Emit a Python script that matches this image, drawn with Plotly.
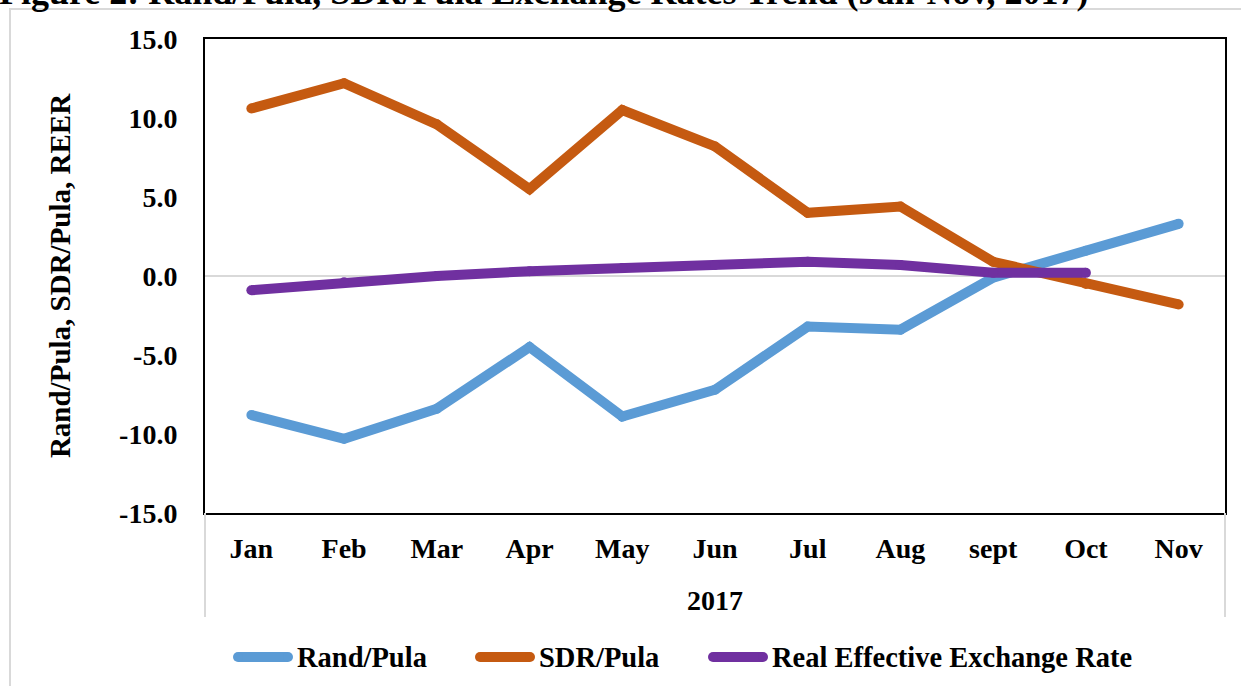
import plotly.graph_objects as go

# Monthly changes for 2017 (percent)
months = ["Jan", "Feb", "Mar", "Apr", "May", "Jun", "Jul", "Aug", "sept", "Oct", "Nov"]
rand_pula = [-8.8, -10.3, -8.4, -4.5, -8.9, -7.2, -3.2, -3.4, -0.1, 1.6, 3.3]
sdr_pula = [10.6, 12.2, 9.6, 5.5, 10.5, 8.2, 4.0, 4.4, 0.9, -0.5, -1.8]
reer = [-0.9, -0.4, 0.0, 0.3, 0.5, 0.7, 0.9, 0.7, 0.2, 0.2, None]
y_ticks = [-15, -10, -5, 0, 5, 10, 15]
y_ticktext = [f"{v:.1f}" for v in y_ticks]

series = [
    ("Rand/Pula", rand_pula, "#5B9BD5"),
    ("SDR/Pula", sdr_pula, "#C55A11"),
    ("Real Effective Exchange Rate", reer, "#7030A0"),
]

FONT = "Liberation Serif"
W, H = 1241, 686
L, R, T, B = 205, 16, 39, 173
PW, PH = W - L - R, H - T - B


def px(x):
    return (x - L) / PW


def py(y):
    return (H - B - y) / PH


def bold(size):
    return dict(family=FONT, size=size, color="black", weight="bold")


fig = go.Figure()
for name, vals, color in series:
    fig.add_trace(go.Scatter(
        x=months, y=vals, name=name, mode="lines+markers",
        line=dict(color=color, width=10),
        marker=dict(color=color, size=10, line=dict(width=0)),
        showlegend=False, connectgaps=False,
    ))

shapes = []
annotations = []

# outer chart frame
shapes.append(dict(type="rect", xref="paper", yref="paper",
                   x0=px(10), x1=px(1270), y0=py(720), y1=py(9),
                   line=dict(color="#d9d9d9", width=2), fillcolor="rgba(0,0,0,0)", layer="below"))
# category group separators below the plot
for xe in (205, 1225):
    shapes.append(dict(type="line", xref="paper", yref="paper",
                       x0=px(xe), x1=px(xe), y0=py(617), y1=py(513),
                       line=dict(color="#d9d9d9", width=2)))

# legend
legend_items = [(233, 295), (475, 537), (708, 770)]
ly = py(657)
for (x0, tx), (name, _, color) in zip(legend_items, series):
    shapes.append(dict(type="line", xref="paper", yref="paper",
                       x0=px(x0 + 5), x1=px(x0 + 55), y0=ly, y1=ly,
                       line=dict(color=color, width=10)))
    for cx in (x0 + 5, x0 + 55):
        shapes.append(dict(type="circle", xref="paper", yref="paper",
                           xsizemode="pixel", ysizemode="pixel",
                           xanchor=px(cx), yanchor=ly, x0=-5, x1=5, y0=-5, y1=5,
                           fillcolor=color, line=dict(width=0)))
    annotations.append(dict(text=name, xref="paper", yref="paper", x=px(tx), y=ly,
                            xanchor="left", yanchor="middle", showarrow=False,
                            font=bold(28.5)))

# figure caption along the top edge
annotations.append(dict(text="Figure 2: Rand/Pula, SDR/Pula Exchange Rates Trend (Jan-Nov, 2017)",
                        xref="paper", yref="paper", x=px(-3), y=py(14),
                        xanchor="left", yanchor="bottom", showarrow=False,
                        font=bold(36)))

fig.update_layout(
    width=W, height=H,
    margin=dict(l=L, r=R, t=T, b=B, autoexpand=False),
    paper_bgcolor="white", plot_bgcolor="white",
    font=bold(28),
    shapes=shapes, annotations=annotations,
    showlegend=False,
)
fig.update_xaxes(
    type="category", categoryorder="array", categoryarray=months,
    range=[-0.5, len(months) - 0.5],
    showgrid=False, zeroline=False, ticks="",
    showline=True, linecolor="black", linewidth=2, mirror=True,
    ticklabelstandoff=9,
    tickfont=bold(28),
    title=dict(text="2017", standoff=28, font=bold(28)),
)
fig.update_yaxes(
    range=[-15, 15], tickvals=y_ticks, ticktext=y_ticktext,
    showgrid=False, zeroline=True, zerolinecolor="#d9d9d9", zerolinewidth=2,
    ticks="", showline=True, linecolor="black", linewidth=2, mirror=True,
    ticklabelstandoff=20,
    tickfont=bold(28),
    title=dict(text="Rand/Pula, SDR/Pula, REER", standoff=40, font=bold(29)),
)

fig.write_html("out.html")
